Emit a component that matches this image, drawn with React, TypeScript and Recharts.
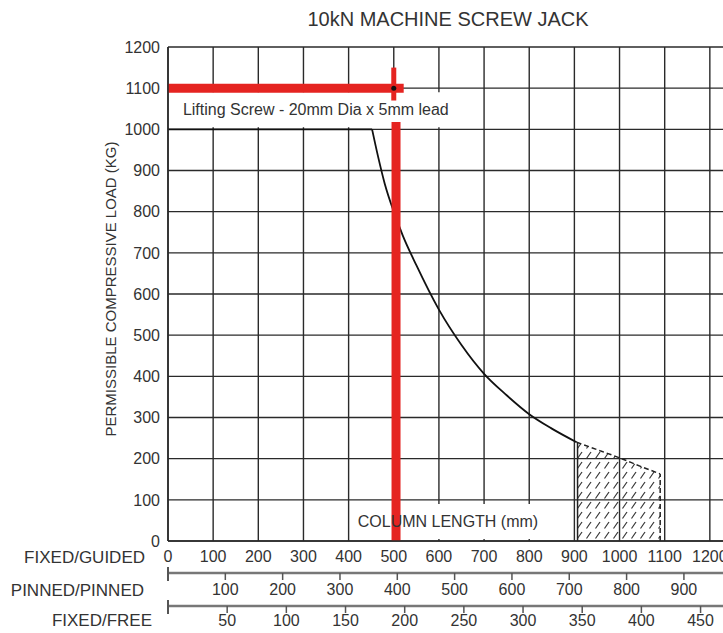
import React from 'react';
import {
  ComposedChart,
  Line,
  Area,
  XAxis,
  YAxis,
  CartesianGrid,
  ReferenceLine,
  ReferenceArea,
  ReferenceDot,
} from 'recharts';

// ---- data ----
const loadTicks = [0, 100, 200, 300, 400, 500, 600, 700, 800, 900, 1000, 1100, 1200];
const guidedTicks = [0, 100, 200, 300, 400, 500, 600, 700, 800, 900, 1000, 1100, 1200];
const pinnedTicks = [0, 100, 200, 300, 400, 500, 600, 700, 800, 900];
const freeTicks = [0, 50, 100, 150, 200, 250, 300, 350, 400, 450];

const guidedDomain = [0, 1300];
const pinnedDomain = [0, 1024];
const freeDomain = [0, 496];
const loadDomain = [0, 1200];

// invisible anchors so the secondary length scales get their ticks
const pinnedSpan = [
  { len: 0, load: 0 },
  { len: 1024, load: 0 },
];
const freeSpan = [
  { len: 0, load: 0 },
  { len: 496, load: 0 },
];

const flatSegment = [
  { len: 0, load: 1000 },
  { len: 452, load: 1000 },
];
const bucklingCurve = [
  { len: 452, load: 1000 },
  { len: 465, load: 935 },
  { len: 480, load: 868 },
  { len: 500, load: 800 },
  { len: 520, load: 742 },
  { len: 550, load: 670 },
  { len: 600, load: 562 },
  { len: 650, load: 476 },
  { len: 700, load: 406 },
  { len: 750, load: 354 },
  { len: 800, load: 308 },
  { len: 850, load: 273 },
  { len: 905, load: 240 },
];
const hatchedZone = [
  { len: 905, load: 240 },
  { len: 960, load: 218 },
  { len: 1000, load: 202 },
  { len: 1045, load: 182 },
  { len: 1090, load: 163 },
];
const liftingPoint = { len: 500, load: 1100 };
const markerLoad = 1100;
const markerLen = 505;

const titleText = '10kN MACHINE SCREW JACK';
const yLabelText = 'PERMISSIBLE COMPRESSIVE LOAD (KG)';
const screwText = 'Lifting Screw - 20mm Dia x 5mm lead';
const columnText = 'COLUMN LENGTH (mm)';
const guidedName = 'FIXED/GUIDED';
const pinnedName = 'PINNED/PINNED';
const freeName = 'FIXED/FREE';

const FONT = '"Liberation Sans", Arial, Helvetica, sans-serif';
const TEXT = '#333';
const GRID = '#2a2a2a';
const RED = '#e52421';

const makeSubTick = (lead: number) => (props: any) => {
  const { x, y, payload } = props;
  if (payload.value === 0) {
    return <line x1={x} x2={x} y1={y - lead - 6} y2={y - lead + 8} stroke="#555" strokeWidth={2} />;
  }
  return (
    <text x={x} y={y} dy="0.71em" textAnchor="middle" fill={TEXT} fontSize={16} fontFamily={FONT}>
      {payload.value}
    </text>
  );
};
const PinnedTick = makeSubTick(11);
const FreeTick = makeSubTick(9);

export default function App() {
  return (
    <div
      style={{
        position: 'absolute',
        left: 0,
        top: 0,
        width: 723,
        height: 633,
        overflow: 'hidden',
        background: '#fff',
        fontFamily: FONT,
      }}
    >
      <div
        style={{
          position: 'absolute',
          left: 448,
          top: 9,
          transform: 'translateX(-50%)',
          whiteSpace: 'nowrap',
          fontSize: 20,
          lineHeight: '20px',
          color: TEXT,
        }}
      >
        {titleText}
      </div>
      <div
        style={{
          position: 'absolute',
          left: 110,
          top: 289,
          transform: 'translate(-50%, -50%) rotate(-90deg)',
          whiteSpace: 'nowrap',
          fontSize: 15,
          lineHeight: '15px',
          color: TEXT,
        }}
      >
        {yLabelText}
      </div>
      <ComposedChart
        width={760}
        height={633}
        margin={{ top: 47, right: 5, bottom: 0, left: 0 }}
        style={{ position: 'absolute', left: 0, top: 0 }}
      >
        <defs>
          <pattern id="hatch" width="9" height="10" patternUnits="userSpaceOnUse">
            <line x1="1.5" y1="8.5" x2="6" y2="2" stroke="#333" strokeWidth="1.2" />
          </pattern>
        </defs>
        <CartesianGrid xAxisId="a_guided" stroke={GRID} strokeWidth={1.4} />
        <XAxis
          xAxisId="a_guided"
          type="number"
          dataKey="len"
          domain={guidedDomain}
          ticks={guidedTicks}
          interval={0}
          allowDataOverflow
          height={32}
          tickLine={false}
          tickMargin={4}
          axisLine={{ stroke: GRID, strokeWidth: 1.6 }}
          tick={{ fill: TEXT, fontSize: 16, fontFamily: FONT }}
          label={{ value: guidedName, position: 'left', offset: 23, fill: TEXT, fontSize: 17, fontFamily: FONT }}
        />
        <XAxis
          xAxisId="b_pinned"
          type="number"
          dataKey="len"
          domain={pinnedDomain}
          ticks={pinnedTicks}
          interval={0}
          allowDataOverflow
          height={33}
          tickSize={7}
          tickMargin={4}
          tickLine={{ stroke: '#555', strokeWidth: 1.5 }}
          axisLine={{ stroke: '#777', strokeWidth: 2.5 }}
          tick={PinnedTick}
          label={{ value: pinnedName, position: 'left', offset: 24, fill: TEXT, fontSize: 17, fontFamily: FONT }}
        />
        <XAxis
          xAxisId="c_free"
          type="number"
          dataKey="len"
          domain={freeDomain}
          ticks={freeTicks}
          interval={0}
          allowDataOverflow
          height={27}
          tickSize={7}
          tickMargin={2}
          tickLine={{ stroke: '#555', strokeWidth: 1.5 }}
          axisLine={{ stroke: '#777', strokeWidth: 2.5 }}
          tick={FreeTick}
          label={{ value: freeName, position: 'left', offset: 16, fill: TEXT, fontSize: 17, fontFamily: FONT }}
        />
        <YAxis
          type="number"
          domain={loadDomain}
          ticks={loadTicks}
          interval={0}
          width={168}
          tickLine={false}
          axisLine={{ stroke: GRID, strokeWidth: 1.6 }}
          tick={{ fill: TEXT, fontSize: 16, fontFamily: FONT }}
        />
        <Line
          xAxisId="b_pinned"
          data={pinnedSpan}
          dataKey="load"
          stroke="none"
          dot={false}
          activeDot={false}
          isAnimationActive={false}
        />
        <Line
          xAxisId="c_free"
          data={freeSpan}
          dataKey="load"
          stroke="none"
          dot={false}
          activeDot={false}
          isAnimationActive={false}
        />
        <ReferenceArea
          xAxisId="a_guided"
          x1={2}
          x2={680}
          y1={1005}
          y2={1090}
          fill="#fff"
          fillOpacity={1}
          stroke="none"
          zIndex={150}
          label={{ value: screwText, position: 'insideLeft', offset: 14, fill: TEXT, fontSize: 16, fontFamily: FONT }}
        />
        <ReferenceArea
          xAxisId="a_guided"
          x1={410}
          x2={830}
          y1={5}
          y2={90}
          fill="#fff"
          fillOpacity={1}
          stroke="none"
          zIndex={150}
          label={{ value: columnText, position: 'center', fill: TEXT, fontSize: 16, fontFamily: FONT }}
        />
        <Area
          xAxisId="a_guided"
          data={hatchedZone}
          dataKey="load"
          type="monotone"
          baseValue={0}
          fill="url(#hatch)"
          fillOpacity={1}
          stroke="#222"
          strokeWidth={1.5}
          strokeDasharray="5 3"
          dot={false}
          activeDot={false}
          isAnimationActive={false}
        />
        <ReferenceLine
          xAxisId="a_guided"
          segment={[{ x: 1090, y: 0 }, { x: 1090, y: 163 }]}
          stroke="#222"
          strokeWidth={1.5}
          strokeDasharray="5 3"
        />
        <ReferenceLine
          xAxisId="a_guided"
          segment={[{ x: 907, y: 0 }, { x: 907, y: 239 }]}
          stroke="#222"
          strokeWidth={1.5}
        />
        <Line
          xAxisId="a_guided"
          data={flatSegment}
          dataKey="load"
          type="linear"
          stroke="#111"
          strokeWidth={1.8}
          dot={false}
          activeDot={false}
          isAnimationActive={false}
        />
        <Line
          xAxisId="a_guided"
          data={bucklingCurve}
          dataKey="load"
          type="monotone"
          stroke="#111"
          strokeWidth={1.8}
          dot={false}
          activeDot={false}
          isAnimationActive={false}
        />
        <ReferenceLine
          xAxisId="a_guided"
          segment={[{ x: 0, y: markerLoad }, { x: 522, y: markerLoad }]}
          stroke={RED}
          strokeWidth={9}
          zIndex={450}
        />
        <ReferenceLine
          xAxisId="a_guided"
          segment={[{ x: liftingPoint.len, y: 1150 }, { x: liftingPoint.len, y: 1070 }]}
          stroke={RED}
          strokeWidth={5}
          zIndex={450}
        />
        <ReferenceLine
          xAxisId="a_guided"
          segment={[{ x: markerLen, y: 1018 }, { x: markerLen, y: 0 }]}
          stroke={RED}
          strokeWidth={9}
          zIndex={450}
        />
        <ReferenceDot
          xAxisId="a_guided"
          x={liftingPoint.len}
          y={liftingPoint.load}
          r={2.5}
          fill="#111"
          stroke="none"
          zIndex={460}
        />
      </ComposedChart>
    </div>
  );
}
